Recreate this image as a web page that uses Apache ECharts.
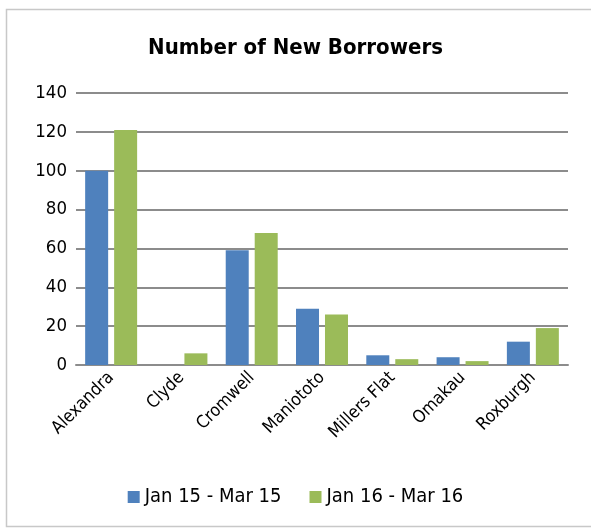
<!DOCTYPE html>
<html>
<head>
<meta charset="utf-8">
<script src="https://cdn.jsdelivr.net/npm/echarts@6/dist/echarts.min.js"></script>
<style>
  html, body { margin: 0; padding: 0; background: #fff; }
  #chart { width: 591px; height: 532px; }
</style>
</head>
<body>
<div id="chart"></div>
<script>
const categories = ['Alexandra', 'Clyde', 'Cromwell', 'Maniototo', 'Millers Flat', 'Omakau', 'Roxburgh']
const seriesNames = ['Jan 15 - Mar 15', 'Jan 16 - Mar 16']
const jan15 = [100, 0, 59, 29, 5, 4, 12]
const jan16 = [121, 6, 68, 26, 3, 2, 19]

const font = '"Liberation Sans Narrow", "DejaVu Sans Condensed", "Noto Sans", sans-serif'

const chart = echarts.init(document.getElementById('chart'))
chart.setOption({
  animation: false,
  textStyle: { fontFamily: font },
  // outer chart border
  graphic: [{
    type: 'rect',
    shape: { x: 6.5, y: 9.5, width: 600, height: 517 },
    style: { fill: 'none', stroke: '#c8c8c8', lineWidth: 1.5 },
  }],
  title: {
    text: 'Number of New Borrowers',
    left: 'center',
    top: 32,
    textStyle: { fontFamily: font, fontSize: 22, fontWeight: 'bold', color: '#000' },
  },
  legend: {
    bottom: 20,
    left: 'center',
    itemWidth: 12,
    itemHeight: 12,
    itemGap: 28,
    icon: 'rect',
    itemStyle: { borderWidth: 0 },
    textStyle: { fontFamily: font, fontSize: 20, color: '#000' },
    data: seriesNames,
  },
  grid: { left: 76, right: 23, top: 93, bottom: 167 },
  xAxis: {
    type: 'category',
    data: categories,
    axisLine: { lineStyle: { color: '#8c8c8c', width: 2 } },
    axisTick: { show: false },
    axisLabel: {
      rotate: 45,
      interval: 0,
      margin: 10,
      fontFamily: font,
      fontSize: 17.5,
      color: '#000',
    },
  },
  yAxis: {
    type: 'value',
    min: 0,
    max: 140,
    interval: 20,
    axisLine: { show: false },
    axisTick: { show: false },
    axisLabel: { fontFamily: font, fontSize: 18.5, color: '#000', margin: 9 },
    splitLine: { lineStyle: { color: '#8c8c8c', width: 2 } },
  },
  series: [
    {
      name: seriesNames[0],
      type: 'bar',
      data: jan15,
      barWidth: 23,
      barGap: '26%',
      itemStyle: { color: '#4f81bd' },
    },
    {
      name: seriesNames[1],
      type: 'bar',
      data: jan16,
      barWidth: 23,
      itemStyle: { color: '#9bbb59' },
    },
  ],
})
</script>
</body>
</html>
